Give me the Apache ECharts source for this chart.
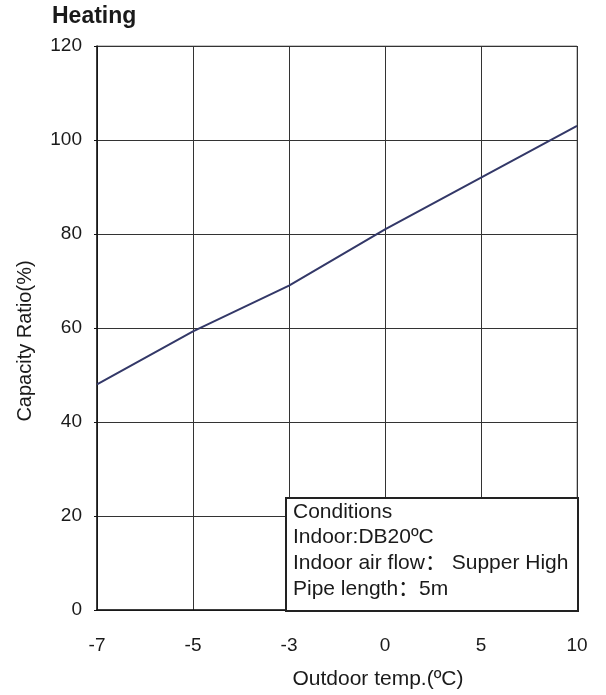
<!DOCTYPE html>
<html>
<head>
<meta charset="utf-8">
<script src="https://cdn.jsdelivr.net/npm/echarts@6/dist/echarts.min.js"></script>
<style>
html,body{margin:0;padding:0;background:#fff;}
#chart{width:606px;height:695px;}
</style>
</head>
<body>
<div id="chart"></div>
<script>
const categories = ['-7', '-5', '-3', '0', '5', '10'];
const capacityRatio = [48, 59.3, 69, 81, 92, 103];
const yTicks = { min: 0, max: 120, interval: 20 };
const titleText = 'Heating';
const xName = 'Outdoor temp.(ºC)';
const yName = 'Capacity Ratio(%)';
const conditionLines = ['Conditions', 'Indoor:DB20ºC', 'Indoor air flow： Supper High', 'Pipe length：5m'];

const FONT = '"Liberation Sans", Arial, "Noto Sans CJK SC", sans-serif';
const chart = echarts.init(document.getElementById('chart'));
chart.setOption({
  backgroundColor: '#fff',
  animation: false,
  title: {
    text: titleText, left: 47, top: 0,
    textStyle: { fontFamily: FONT, fontSize: 23, fontWeight: 'bold', color: '#1a1a1a' }
  },
  grid: { left: 97, right: 29, top: 46, bottom: 84, show: true, borderColor: '#8a8a8a', borderWidth: 1 },
  xAxis: {
    type: 'category', data: categories, boundaryGap: false,
    name: xName, nameLocation: 'middle', nameGap: 59,
    nameTextStyle: { fontFamily: FONT, fontSize: 21, color: '#1a1a1a', padding: [0, 0, 0, 82] },
    axisLine: { lineStyle: { color: '#111', width: 1.5 } },
    axisTick: { show: false },
    axisLabel: { fontFamily: FONT, fontSize: 19, color: '#1a1a1a', margin: 26 },
    splitLine: { show: true, lineStyle: { color: '#333', width: 1 } }
  },
  yAxis: {
    type: 'value', min: yTicks.min, max: yTicks.max, interval: yTicks.interval,
    name: yName, nameLocation: 'middle', nameRotate: 90, nameGap: 62,
    nameTextStyle: { fontFamily: FONT, fontSize: 20, color: '#1a1a1a', padding: [0, 26, 0, 0] },
    axisLine: { show: true, lineStyle: { color: '#111', width: 1.5 } },
    axisTick: { show: true, length: 3, lineStyle: { color: '#111' } },
    axisLabel: { fontFamily: FONT, fontSize: 19, color: '#1a1a1a', margin: 15 },
    splitLine: { show: true, lineStyle: { color: '#333', width: 1 } }
  },
  series: [{
    type: 'line', data: capacityRatio, showSymbol: false, symbol: 'none',
    lineStyle: { color: '#333868', width: 2 }, z: 3
  }],
  graphic: [
    { type: 'rect', left: 285, top: 497, z: 100,
      shape: { x: 0, y: 0, width: 292, height: 113 },
      style: { fill: '#fff', stroke: '#222', lineWidth: 2 } },
    { type: 'text', left: 293, top: 499, z: 101,
      style: { text: conditionLines.join('\n'), fontFamily: FONT, fontSize: 21, lineHeight: 25.8, fill: '#1a1a1a' } }
  ]
});
</script>
</body>
</html>
